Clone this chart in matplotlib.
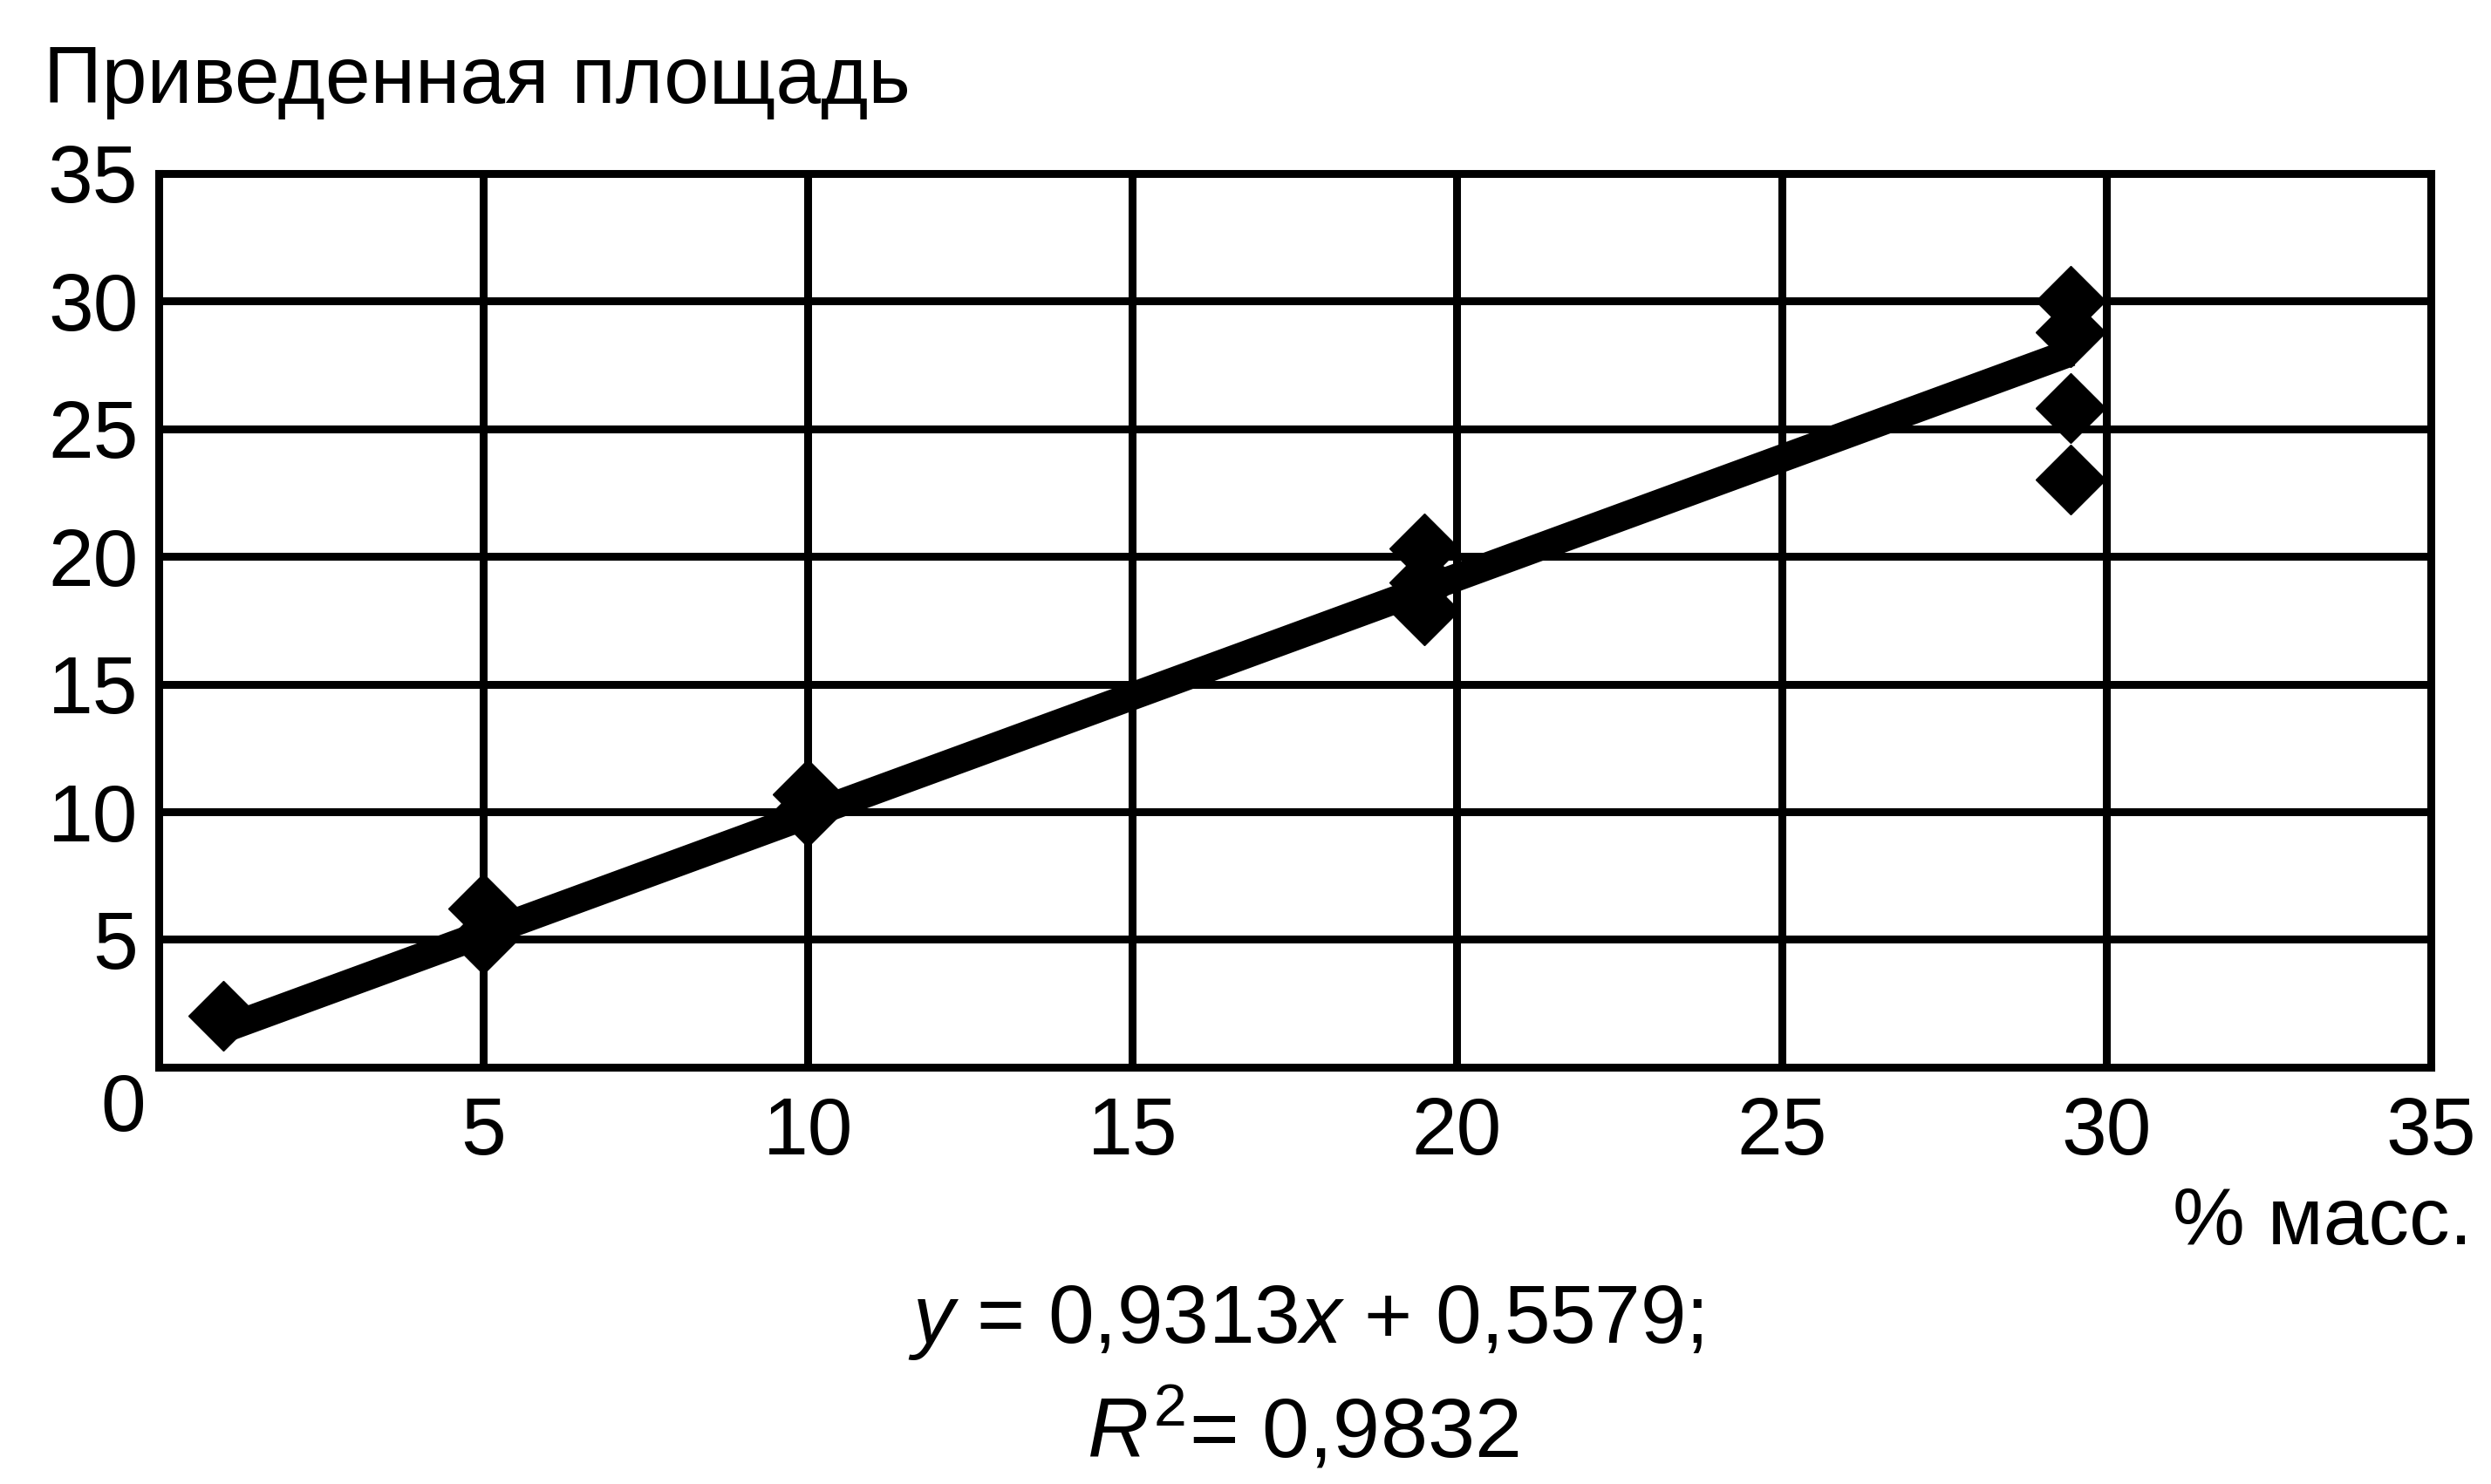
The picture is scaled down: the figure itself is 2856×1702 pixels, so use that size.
import numpy as np
import matplotlib
matplotlib.use('Agg')
from matplotlib import pyplot as plt

plt.rcParams['font.family'] = ['Liberation Sans', 'DejaVu Sans']
plt.rcParams['mathtext.fontset'] = 'custom'
plt.rcParams['mathtext.rm'] = 'Liberation Sans'
plt.rcParams['mathtext.it'] = 'Liberation Sans:italic'

# data
conc = [1.0, 5.0, 5.0, 10.0, 10.0, 19.5, 19.5, 19.5, 29.45, 29.45, 29.45, 29.45]
area = [2.0, 6.2, 5.0, 10.7, 10.0, 20.3, 19.0, 17.9, 30.0, 28.8, 25.8, 23.0]
slope = 0.9313
intercept = 0.5579
xticks = [5, 10, 15, 20, 25, 30, 35]
yticks = [5, 10, 15, 20, 25, 30, 35]

fig = plt.figure(figsize=(28.56, 17.02), dpi=100)
ax = fig.add_axes([0.0637, 0.2809, 0.9121, 0.6022])

ax.set_xlim(0, 35)
ax.set_ylim(0, 35)
ax.set_xticks(xticks)
ax.set_yticks(yticks)
ax.tick_params(length=0, labelsize=67, width=0)
ax.tick_params(axis='y', pad=17)
ax.tick_params(axis='x', pad=24)
ax.grid(True, color='black', linewidth=6.5)
ax.set_axisbelow(True)
for s in ax.spines.values():
    s.set_linewidth(6.5)

# trend line from the fit
xs = np.array([min(conc), max(conc)])
ax.plot(xs, slope*xs + intercept, color='black', linewidth=23, solid_capstyle='butt', zorder=3)
ax.plot(conc, area, linestyle='none', marker='D', markersize=41, color='black', zorder=4)

fig.text(0.0494, 0.252, '0', fontsize=67, ha='center', va='center')
fig.text(0.0175, 0.9307, 'Приведенная площадь', fontsize=67, ha='left', va='baseline')
fig.text(0.9926, 0.1616, '% масс.', fontsize=67, ha='right', va='baseline')
fig.text(0.524, 0.095, r'$y$ = 0,9313$x$ + 0,5579;', fontsize=68, ha='center', va='baseline')
fig.text(0.523, 0.018, r'$R^{\mathrm{2}}$= 0,9832', fontsize=70, ha='center', va='baseline')

plt.savefig('out.png', dpi=100)
